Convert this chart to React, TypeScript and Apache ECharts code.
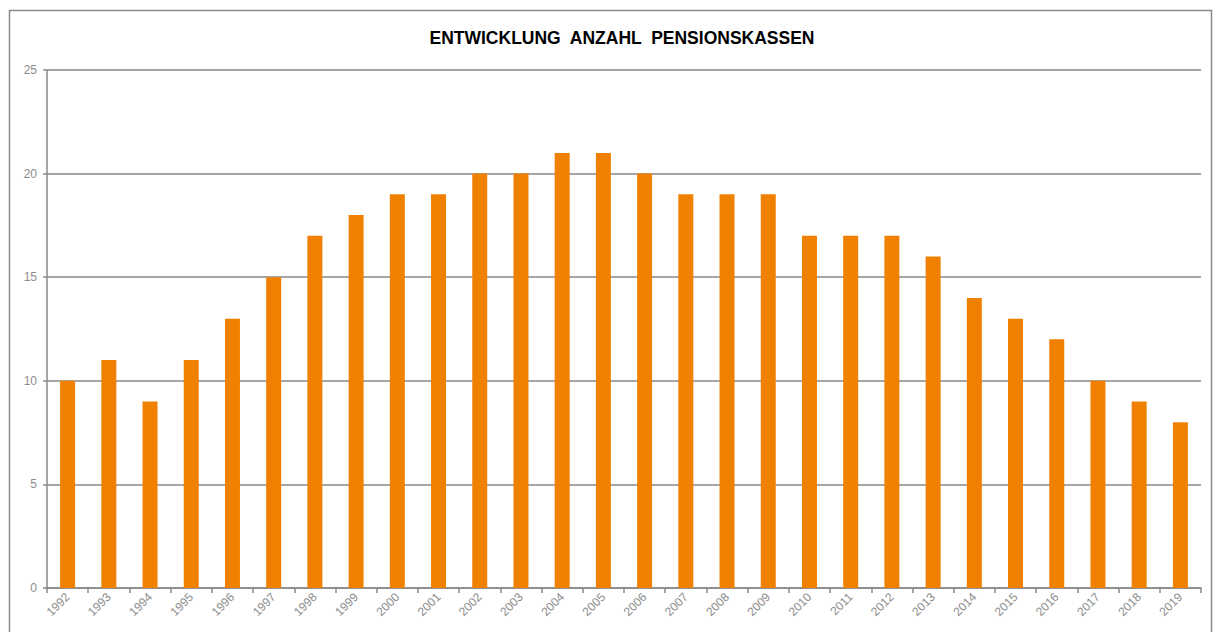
import React, { useEffect, useRef } from "react";
import * as echarts from "echarts";

const years = ["1992","1993","1994","1995","1996","1997","1998","1999","2000","2001","2002","2003","2004","2005","2006","2007","2008","2009","2010","2011","2012","2013","2014","2015","2016","2017","2018","2019"];
const counts = [10,11,9,11,13,15,17,18,19,19,20,20,21,21,20,19,19,19,17,17,17,16,14,13,12,10,9,8];
const titleText = "ENTWICKLUNG  ANZAHL  PENSIONSKASSEN";

export default function App() {
  const ref = useRef<HTMLDivElement>(null);
  useEffect(() => {
    if (!ref.current) return;
    const chart = echarts.init(ref.current, null, { renderer: "svg" });
    chart.setOption({
      animation: false,
      backgroundColor: "#ffffff",
      title: {
        text: titleText,
        left: 617,
        textAlign: "center",
        top: 24,
        textStyle: { fontFamily: "Liberation Sans, Arial", fontWeight: "bold", fontSize: 17.5, color: "#000" },
      },
      graphic: [
        { type: "rect", shape: { x: 9.5, y: 10.5, width: 1202, height: 640 }, style: { fill: "none", stroke: "#8a8a8a", lineWidth: 1.5 }, silent: true, z: -1 },
      ],
      grid: { left: 47, right: 18, top: 70, bottom: 44, containLabel: false },
      xAxis: {
        type: "category",
        data: years,
        axisLine: { lineStyle: { color: "#888", width: 1.5 } },
        axisTick: { show: true, length: 5, lineStyle: { color: "#888", width: 1.5 } },
        axisLabel: { rotate: 45, color: "#8c8c8c", fontSize: 12, fontFamily: "Liberation Sans, Arial", margin: 7, interval: 0 },
      },
      yAxis: {
        type: "value",
        min: 0,
        max: 25,
        interval: 5,
        axisLine: { show: true, lineStyle: { color: "#888", width: 1.5 } },
        axisTick: { show: true, length: 4, lineStyle: { color: "#888", width: 1.5 } },
        axisLabel: { color: "#8c8c8c", fontSize: 12, fontFamily: "Liberation Sans, Arial", margin: 10 },
        splitLine: { lineStyle: { color: "#888", width: 1.5 } },
      },
      series: [
        {
          type: "bar",
          data: counts,
          barWidth: 15,
          itemStyle: { color: "#F08000" },
        },
      ],
    });
    return () => chart.dispose();
  }, []);
  return <div ref={ref} style={{ position: "fixed", left: 0, top: 0, width: 1219, height: 632 }} />;
}
